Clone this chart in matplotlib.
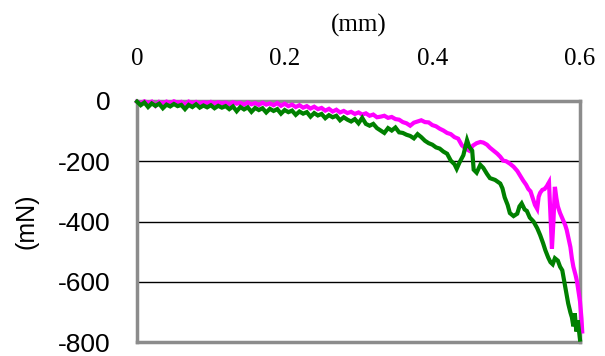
import matplotlib
matplotlib.use("Agg")
import matplotlib.pyplot as plt

# displacement (mm) and force (mN)
green_x = [0.000,0.005,0.010,0.015,0.020,0.025,0.030,0.035,0.040,0.045,0.050,0.055,0.060,0.065,0.070,
           0.075,0.080,0.085,0.090,0.095,0.100,0.105,0.110,0.115,0.120,0.125,0.130,0.135,0.140,0.145,
           0.150,0.155,0.160,0.165,0.170,0.175,0.180,0.185,0.190,0.195,0.200,0.205,0.210,0.215,0.220,
           0.225,0.230,0.235,0.240,0.245,0.250,0.255,0.260,0.265,0.270,0.275,0.280,0.285,0.290,0.295,
           0.300,0.305,0.310,0.315,0.320,0.325,0.330,0.335,0.340,0.345,0.350,0.355,0.360,0.365,0.370,
           0.375,0.380,0.385,0.390,0.395,0.400,0.405,0.410,0.415,0.420,0.425,0.430,0.433,0.437,0.442,
           0.447,0.450,0.454,0.456,0.460,0.465,0.469,0.474,0.478,0.485,0.492,0.495,0.498,0.502,0.505,
           0.510,0.515,0.518,0.521,0.525,0.528,0.532,0.537,0.542,0.546,0.550,0.553,0.557,0.560,0.563,
           0.566,0.570,0.573,0.576,0.578,0.580,0.582,0.584,0.587,0.589,0.591,0.593,0.595,0.597,0.599,0.600]
green_y = [-2,-14,-5,-20,-8,-16,-9,-24,-12,-18,-10,-17,-13,-27,-13,
           -20,-11,-22,-15,-21,-14,-24,-16,-22,-17,-27,-18,-34,-20,-28,
           -21,-36,-23,-30,-24,-38,-26,-33,-27,-42,-30,-37,-32,-46,-35,
           -42,-37,-52,-40,-48,-43,-57,-47,-54,-49,-64,-54,-62,-68,-60,
           -74,-56,-76,-82,-76,-90,-98,-106,-90,-98,-88,-104,-106,-112,-116,
           -124,-110,-120,-132,-140,-145,-154,-158,-168,-175,-198,-210,-225,-203,-180,
           -130,-152,-165,-228,-238,-212,-222,-242,-256,-262,-274,-290,-320,-345,-372,
           -382,-374,-350,-340,-360,-365,-387,-400,-422,-445,-472,-495,-520,-535,-542,
           -522,-530,-550,-562,-590,-618,-648,-672,-702,-718,-748,-705,-765,-728,-772,-792]

magenta_x = [0.000,0.005,0.010,0.015,0.020,0.025,0.030,0.035,0.040,0.045,0.050,0.055,0.060,0.065,0.070,
             0.075,0.080,0.085,0.090,0.095,0.100,0.105,0.110,0.115,0.120,0.125,0.130,0.135,0.140,0.145,
             0.150,0.155,0.160,0.165,0.170,0.175,0.180,0.185,0.190,0.195,0.200,0.205,0.210,0.215,0.220,
             0.225,0.230,0.235,0.240,0.245,0.250,0.255,0.260,0.265,0.270,0.275,0.280,0.285,0.290,0.295,
             0.300,0.305,0.310,0.315,0.320,0.325,0.330,0.335,0.340,0.345,0.350,0.355,0.360,0.365,0.370,
             0.375,0.380,0.385,0.390,0.395,0.400,0.405,0.410,0.415,0.420,0.425,0.430,0.435,0.440,0.445,
             0.450,0.455,0.460,0.465,0.469,0.474,0.478,0.483,0.488,0.492,0.496,0.500,0.505,0.510,0.515,
             0.519,0.523,0.527,0.530,0.533,0.536,0.539,0.542,0.544,0.546,0.549,0.552,0.555,0.558,0.560,
             0.562,0.564,0.566,0.568,0.570,0.573,0.577,0.580,0.582,0.585,0.587,0.589,0.591,0.594,0.596,
             0.598,0.600,0.602,0.603]
magenta_y = [-2,-7,-1,-6,-2,-16,-3,-8,-2,-7,-1,-6,-3,-13,-2,
             -7,-3,-8,-4,-7,-3,-9,-4,-8,-5,-11,-4,-9,-6,-12,
             -5,-11,-7,-13,-6,-12,-8,-14,-7,-16,-9,-17,-12,-20,-14,
             -22,-17,-25,-19,-27,-23,-32,-26,-35,-29,-38,-33,-40,-36,-43,
             -38,-45,-41,-49,-45,-54,-52,-49,-56,-53,-60,-62,-70,-74,-82,
             -72,-68,-64,-70,-71,-80,-84,-92,-98,-106,-110,-120,-125,-147,-158,
             -165,-148,-140,-136,-138,-145,-155,-165,-175,-185,-198,-200,-208,-218,-232,
             -248,-264,-278,-292,-300,-322,-345,-358,-318,-305,-295,-292,-283,-270,-380,
             -490,-400,-285,-322,-350,-372,-395,-412,-428,-462,-485,-522,-550,-578,-600,
             -632,-665,-722,-765]

x_ticks = [0, 0.2, 0.4, 0.6]
x_tick_labels = ["0", "0.2", "0.4", "0.6"]
y_ticks = [0, -200, -400, -600, -800]
y_tick_labels = ["0", "-200", "-400", "-600", "-800"]

fig = plt.figure(figsize=(6.05, 3.56), dpi=100)
ax = fig.add_axes([137/605, 1-342/356, (580-137)/605, (342-101)/356])

ax.plot(magenta_x, magenta_y, color="#FF00FF", lw=3.0, clip_on=False, zorder=3,
        solid_joinstyle="miter")
ax.plot(green_x, green_y, color="#008000", lw=3.0, clip_on=False, zorder=4,
        solid_joinstyle="miter")

ax.set_xlim(0, 0.6)
ax.set_ylim(-800, 0)
for y in [-200, -400, -600]:
    ax.axhline(y, color="black", lw=1.0, zorder=1)

ax.xaxis.tick_top()
ax.xaxis.set_label_position("top")
ax.set_xticks(x_ticks)
ax.set_xticklabels(x_tick_labels, fontfamily="Liberation Serif", fontsize=18)
ax.set_yticks(y_ticks)
ax.set_yticklabels(y_tick_labels, fontfamily="Liberation Sans", fontsize=19)
ax.tick_params(axis="x", length=0, pad=22)
ax.tick_params(axis="y", length=0, pad=19)
ax.set_xlabel("(mm)", fontfamily="Liberation Serif", fontsize=18, labelpad=12)
ax.set_ylabel("(mN)", fontfamily="Liberation Sans", fontsize=18, labelpad=14)

for s in ax.spines.values():
    s.set_color("#8c8c8c")
    s.set_linewidth(2.5)
    s.set_zorder(2)

fig.savefig("out.png", dpi=100)
